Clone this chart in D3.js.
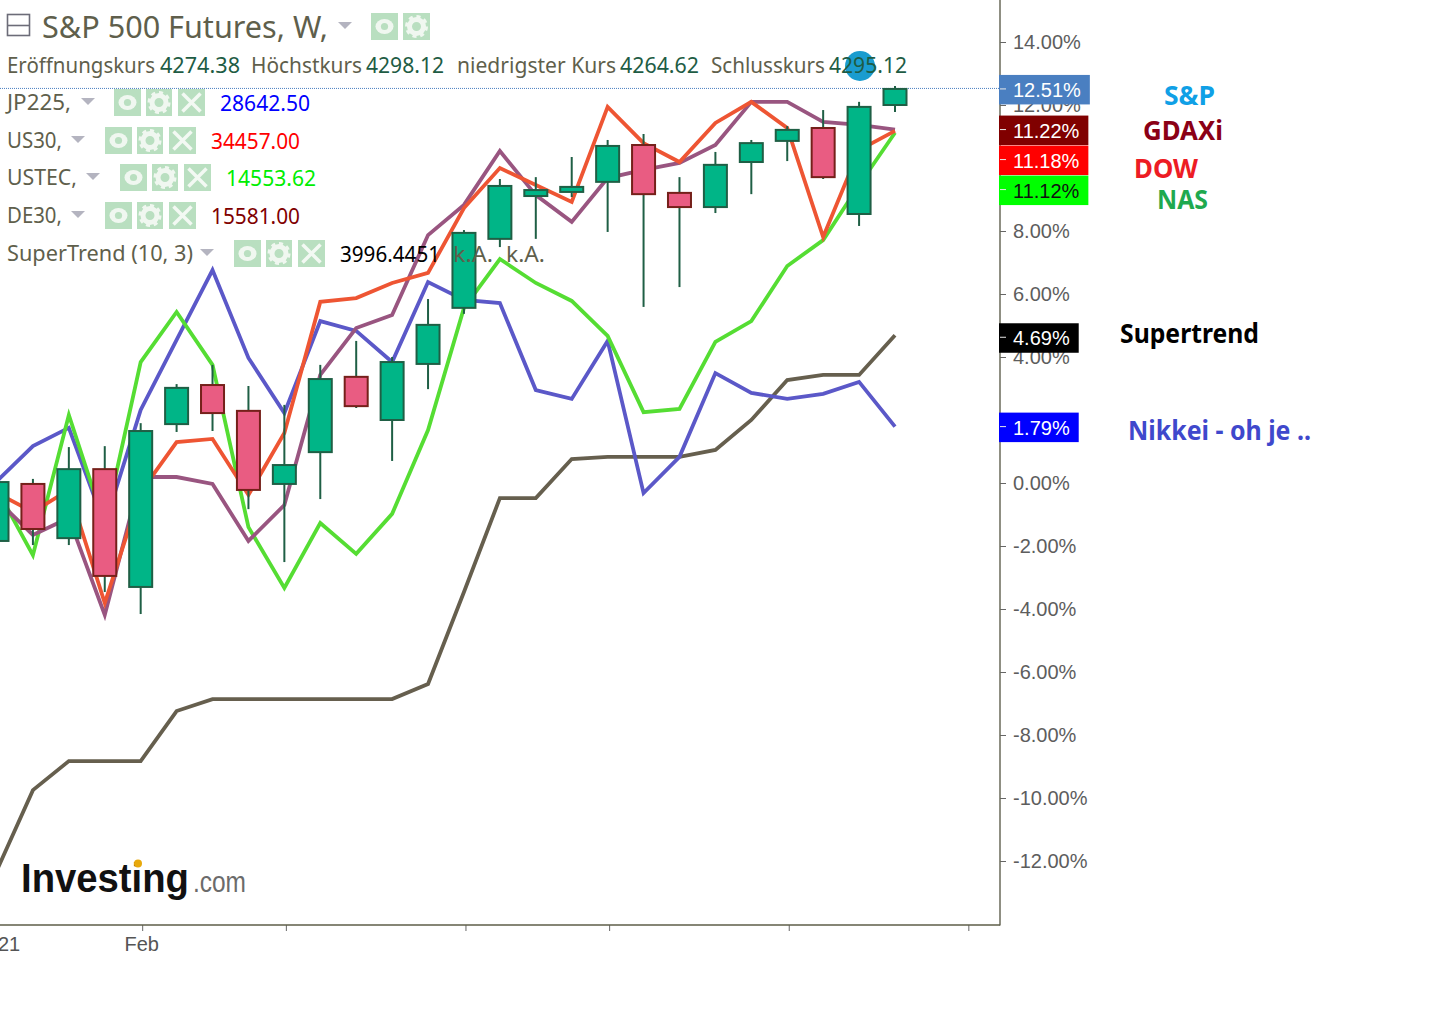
<!DOCTYPE html>
<html><head><meta charset="utf-8">
<script src="https://cdn.jsdelivr.net/npm/d3@7/dist/d3.min.js"></script>
<style>html,body{margin:0;background:#fff;overflow:hidden}svg{display:block}</style>
</head><body><svg id="c" width="1434" height="1009"></svg>
<script>
const weeks = ["2021-01-04","2021-01-11","2021-01-18","2021-01-25","2021-02-01","2021-02-08","2021-02-15","2021-02-22","2021-03-01","2021-03-08","2021-03-15","2021-03-22","2021-03-29","2021-04-05","2021-04-12","2021-04-19","2021-04-26","2021-05-03","2021-05-10","2021-05-17","2021-05-24","2021-05-31","2021-06-07","2021-06-14","2021-06-21","2021-06-28"];
const opens  = [-1.84,-0.03,-1.75,0.44,-3.30,1.87,3.11,2.29,-0.03,0.98,3.37,2.00,3.78,5.56,7.75,9.11,9.24,9.56,10.73,9.21,8.76,10.19,10.86,11.27,8.54,12.00];
const closes = [0.03,-1.46,0.44,-2.95,1.65,3.02,2.22,-0.22,0.57,3.30,2.44,3.84,5.02,7.94,9.43,9.30,9.40,10.70,9.17,8.76,10.10,10.79,11.21,9.71,11.94,12.51];
const highs  = [0.03,0.13,1.14,1.17,1.90,3.14,3.75,3.08,2.48,3.75,4.51,4.00,5.84,8.03,9.65,9.71,10.35,10.89,11.08,9.71,10.51,10.89,11.33,11.84,12.10,12.60];
const lows   = [-1.84,-1.97,-1.97,-3.46,-4.16,1.62,1.65,-0.83,-2.51,-0.51,2.38,0.70,2.98,5.37,7.49,7.75,9.08,7.97,5.59,6.22,8.57,9.17,10.22,9.65,8.16,11.78];
const nikkei = [0.06,1.17,1.75,-1.33,2.32,4.54,6.76,3.97,2.22,5.14,4.83,3.84,6.38,5.81,5.71,2.95,2.67,4.51,-0.32,0.83,3.49,2.86,2.67,2.83,3.21,1.79];
const nasdaq = [-0.20,-2.29,2.16,-1.33,3.84,5.43,3.75,-1.40,-3.33,-1.27,-2.25,-0.98,1.68,5.56,7.11,6.35,5.78,4.67,2.25,2.35,4.48,5.14,6.89,7.71,9.46,11.12];
const dow    = [-0.32,-0.92,-0.22,-3.81,-0.29,1.30,1.40,-0.38,1.59,5.75,5.87,6.35,6.67,8.73,10.00,9.46,8.92,11.94,10.79,10.19,11.43,12.10,11.27,7.81,10.57,11.18];
const dax    = [-0.54,-1.65,-1.11,-4.19,0.19,0.19,-0.03,-1.84,-0.70,3.43,4.92,5.33,7.87,8.83,10.54,9.14,8.29,9.68,9.94,10.16,10.73,12.10,12.10,11.46,11.37,11.22];
const supertrend = [-12.29,-9.75,-8.83,-8.83,-8.83,-7.24,-6.86,-6.86,-6.86,-6.86,-6.86,-6.86,-6.38,-3.46,-0.48,-0.48,0.76,0.83,0.83,0.83,1.05,2.00,3.27,3.43,3.43,4.69];
const yTicks = [14,12,8,6,4,0,-2,-4,-6,-8,-10,-12];
const xTickDates = ["2021-01-04","2021-02-01","2021-03-01","2021-04-05","2021-05-03","2021-06-07","2021-07-12"];
const xTickLabels = ["2021","Feb","","","","",""];
const lastValues = [12.51,11.22,11.18,11.12,4.69,1.79];
const lastFills = ["#4a7fc1","#800000","#ff0000","#00ff00","#000000","#0000ff"];
const lastText = ["#fff","#fff","#fff","#111","#fff","#fff"];

const FONT='"Noto Sans",sans-serif', AX='"Liberation Sans",Arial,sans-serif';
const svg=d3.select("#c");
const pd=d3.utcParse("%Y-%m-%d");
const dates=weeks.map(pd);
const x=d3.scaleUtc().domain([dates[0],dates[25]]).range([-3,895]);
const y=d3.scaleLinear().domain([0,14]).range([483,42]);

// axes
const ya=d3.axisRight(y).tickValues(yTicks).tickSize(6).tickPadding(7).tickFormat(d=>d.toFixed(2)+"%");
const gy=svg.append("g").attr("transform","translate(1000,0)").call(ya);
gy.select(".domain").remove();
gy.selectAll("line").attr("stroke","#666");
gy.selectAll("text").attr("font-family",AX).attr("font-size",20).attr("fill","#5d5d5d").attr("dy","0.34em");
const xa=d3.axisBottom(x).tickValues(xTickDates.map(pd)).tickSize(6).tickPadding(6).tickFormat((d,i)=>xTickLabels[i]);
const gx=svg.append("g").attr("transform","translate(1.5,925)").call(xa);
gx.select(".domain").remove();
gx.selectAll("line").attr("stroke","#666");
gx.selectAll("text").attr("font-family",AX).attr("font-size",20).attr("fill","#555").attr("dx",-1);
svg.append("line").attr("x1",1000).attr("x2",1000).attr("y1",0).attr("y2",925.5).attr("stroke","#6a6a5a").attr("stroke-width",1.5);
svg.append("line").attr("x1",0).attr("x2",1000).attr("y1",925).attr("y2",925).attr("stroke","#5e5e48").attr("stroke-width",1.5);

// last price line
svg.append("line").attr("x1",0).attr("x2",1000).attr("y1",y(12.51)-.5).attr("y2",y(12.51)-.5)
  .attr("stroke","#4a7fc1").attr("stroke-width",1).attr("stroke-dasharray","1 1");

// lines
const line=d3.line().x((d,i)=>x(dates[i])).y(d=>y(d));
[[supertrend,"#665f4e"],[nikkei,"#5b58c8"],[nasdaq,"#55dd33"],[dax,"#995580"],[dow,"#ee5533"]].forEach(([s,c])=>{
  svg.append("path").datum(s).attr("d",line).attr("fill","none").attr("stroke",c).attr("stroke-width",3.8).attr("stroke-linejoin","miter");
});

// candles
const cg=svg.append("g").selectAll("g").data(weeks).join("g");
cg.append("line").attr("x1",(d,i)=>x(dates[i])).attr("x2",(d,i)=>x(dates[i]))
  .attr("y1",(d,i)=>y(highs[i])).attr("y2",(d,i)=>y(lows[i])).attr("stroke-width",2)
  .attr("stroke","#1f5f45");
cg.append("rect").attr("x",(d,i)=>x(dates[i])-11.5).attr("width",23)
  .attr("y",(d,i)=>y(Math.max(opens[i],closes[i])))
  .attr("height",(d,i)=>Math.abs(y(opens[i])-y(closes[i])))
  .attr("fill",(d,i)=>closes[i]>=opens[i]?"#00b587":"#e95c82")
  .attr("stroke",(d,i)=>closes[i]>=opens[i]?"#1f5f45":"#75201a").attr("stroke-width",2);

// logo
svg.append("text").attr("x",21).attr("y",892).attr("font-family",AX).text("Investing").attr("font-weight",700).attr("font-size",41).attr("fill","#111").attr("textLength",168).attr("lengthAdjust","spacingAndGlyphs");
svg.append("text").attr("x",193).attr("y",892).attr("font-family",AX).text(".com").attr("font-size",30).attr("fill","#6b6b6b").attr("textLength",53).attr("lengthAdjust","spacingAndGlyphs");
svg.append("circle").attr("cx",138).attr("cy",863.5).attr("r",4).attr("fill","#e8a90c");

// top marker
svg.append("circle").attr("cx",860).attr("cy",66).attr("r",15).attr("fill","#1a9ccf");

// legend
function t(xp,yp,s,size,fill,w,weight){
  const e=svg.append("text").attr("x",xp).attr("y",yp).text(s).attr("font-family",FONT).attr("font-size",size).attr("fill",fill);
  if(w) e.attr("textLength",w).attr("lengthAdjust","spacingAndGlyphs");
  if(weight) e.attr("font-weight",weight);
  return e;
}
function caret(cx,cy){svg.append("path").attr("d",`M${cx-7},${cy-3}h14l-7,7z`).attr("fill","#b4b4c0");}
function box(xp,yp,w,h,kind){
  svg.append("rect").attr("x",xp).attr("y",yp).attr("width",w).attr("height",h).attr("fill","#b9dfc0");
  const cx=xp+w/2,cy=yp+h/2;
  if(kind==="eye"){
    svg.append("ellipse").attr("cx",cx).attr("cy",cy).attr("rx",9).attr("ry",7.5).attr("fill","#f0f7f0");
    svg.append("circle").attr("cx",cx).attr("cy",cy).attr("r",3.6).attr("fill","#b9dfc0");
  }else if(kind==="gear"){
    svg.append("circle").attr("cx",cx).attr("cy",cy).attr("r",7).attr("fill","none").attr("stroke","#f0f7f0").attr("stroke-width",5);
    svg.append("circle").attr("cx",cx).attr("cy",cy).attr("r",10).attr("fill","none").attr("stroke","#f0f7f0").attr("stroke-width",3).attr("stroke-dasharray","4 3.8");
  }else{
    svg.append("path").attr("d",`M${cx-9},${cy-9}L${cx+9},${cy+9}M${cx+9},${cy-9}L${cx-9},${cy+9}`).attr("stroke","#f3f9f3").attr("stroke-width",3.5);
  }
}
const gray="#5f5f4c", dk="#1e5c44";
svg.append("rect").attr("x",7.5).attr("y",14.5).attr("width",22).attr("height",21).attr("fill","#fff").attr("stroke","#6c6c78").attr("stroke-width",1.6);
svg.append("line").attr("x1",8).attr("x2",29).attr("y1",25.5).attr("y2",25.5).attr("stroke","#6c6c78").attr("stroke-width",1.6);
t(42,38,"S&P 500 Futures, W,",31,gray,286);
caret(345,25); box(371,13,27,27,"eye"); box(403,13,27,27,"gear");
t(7,73,"Eröffnungskurs",22,gray,148); t(160,73,"4274.38",22,dk,80);
t(251,73,"Höchstkurs",22,gray,111); t(366,73,"4298.12",22,dk,78);
t(457,73,"niedrigster Kurs",22,gray,159); t(620,73,"4264.62",22,dk,79);
t(711,73,"Schlusskurs",22,gray,114); t(829,73,"4295.12",22,dk,78);

const rowNames=["JP225,","US30,","USTEC,","DE30,","SuperTrend (10, 3)"];
const rowValues=["28642.50","34457.00","14553.62","15581.00","3996.4451"];
const rowColors=["#0000ff","#ff0000","#00ee00","#800000","#000000"];
const layout=[[110,64,88,114,220,90,89],[148,55,78,105,211,89,127],[185,70,93,120,226,90,164],[223,55,78,105,211,89,202],[261,186,207,234,340,100,240]];
rowNames.forEach((n,i)=>{
  const [b,w,c,bx,vx,vw,by]=layout[i];
  t(7,b,n,22,gray,w); caret(c,by+12);
  box(bx,by,27,27,"eye"); box(bx+32,by,26,27,"gear"); box(bx+64,by,27,27,"x");
  t(vx,b+1,rowValues[i],22,rowColors[i],vw);
});
t(453,262,"k.A.",22,gray,40); t(506,262,"k.A.",22,gray,39);

// last value labels, stacked so they do not overlap
let prevBottom=-Infinity;
lastValues.forEach((v,i)=>{
  const cy=Math.max(y(v),prevBottom+15)+(i===4?2:0);
  prevBottom=cy+15;
  const r=svg.append("rect").attr("x",999).attr("y",cy-14).attr("height",29.5).attr("fill",lastFills[i]);
  const tx=svg.append("text").attr("x",1013).attr("y",cy+8).text(v.toFixed(2)+"%").attr("font-family",AX).attr("font-size",20).attr("fill",lastText[i]);
  r.attr("width",14+tx.node().getComputedTextLength()+9);
  svg.append("line").attr("x1",1000).attr("x2",1006).attr("y1",cy).attr("y2",cy).attr("stroke","#e8e8e8").attr("stroke-width",1);
});

// side notes
const noteX=[1164,1143,1134,1157,1120,1128], noteY=[105,140,178,209,343,440], noteW=[51,80,64,51,139,183];
const noteC=["#10a0e6","#8b0016","#ed1c24","#1fa94f","#000000","#3f48cc"];
const noteT=["S&P","GDAXi","DOW","NAS","Supertrend","Nikkei - oh je .."];
noteT.forEach((s,i)=>t(noteX[i],noteY[i],s,27,noteC[i],noteW[i],700));
</script></body></html>
